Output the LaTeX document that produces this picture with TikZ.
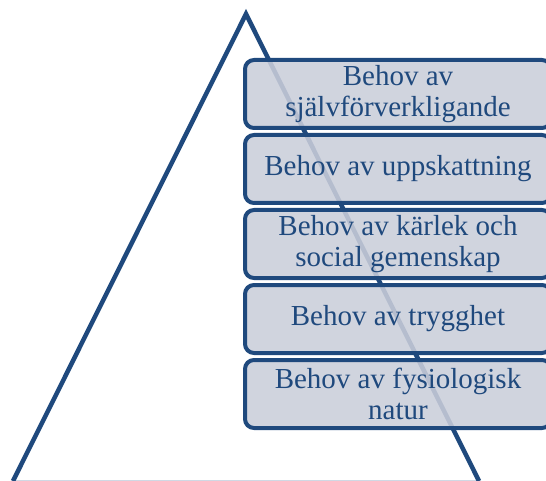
\documentclass[tikz,border=0pt]{standalone}
\usepackage{fontspec}
\setmainfont{Liberation Serif}
\definecolor{dkblue}{RGB}{31,73,125}
\definecolor{boxfill}{RGB}{202,206,218}
\definecolor{basecol}{RGB}{208,216,228}
\tikzset{
  levelbox/.style={draw=dkblue, line width=4pt, rounded corners=9pt, fill=boxfill, fill opacity=0.88, text opacity=1,
    minimum width=306pt, minimum height=68pt, inner sep=0pt, text=dkblue, align=center,
    font=\fontsize{29}{31}\selectfont},
  tri/.style={draw=dkblue, line width=4.5pt, line join=miter},
}
\begin{document}
\begin{tikzpicture}[x=1pt,y=-1pt]
\useasboundingbox (0,0) rectangle (546,481);
\clip (0,0) rectangle (546,481);
\coordinate (apex) at (246,14);
\coordinate (bl) at (13,481);
\coordinate (br) at (479,481);
\draw[draw=basecol, line width=2pt] (bl) -- (br);
\draw[tri] (bl) -- (apex) -- (br);
\node[levelbox] (l5) at (398,94) {Behov av\\självförverkligande};
\node[levelbox] (l4) at (398,169) {Behov av uppskattning};
\node[levelbox] (l3) at (398,244) {Behov av kärlek och\\social gemenskap};
\node[levelbox] (l2) at (398,319) {Behov av trygghet};
\node[levelbox] (l1) at (398,394) {Behov av fysiologisk\\natur};
\end{tikzpicture}
\end{document}
